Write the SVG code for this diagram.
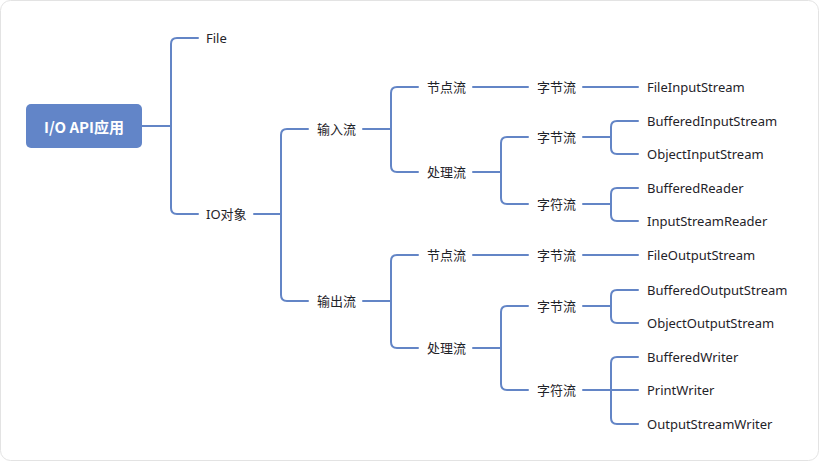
<svg xmlns="http://www.w3.org/2000/svg" width="819" height="461" viewBox="0 0 819 461">
<style>
.t{font-family:"Noto Sans","Noto Sans CJK SC",sans-serif;font-size:13px;fill:#1f2329;dominant-baseline:central}
.c{fill:none;stroke:#6385c6;stroke-width:2;stroke-linecap:round;stroke-linejoin:round}
.rt{font-family:"Noto Sans CJK SC","Noto Sans",sans-serif;font-size:15px;font-weight:bold;fill:#ffffff;dominant-baseline:central;text-anchor:middle}
</style>
<rect x="0.5" y="0.5" width="818" height="460" rx="10" fill="#ffffff" stroke="#e3e3e3"/>
<g id="connectors" class="c">
<path d="M142,126 H171"/>
<path d="M198,38 H177 Q171,38 171,44 V208 Q171,214 177,214 H198"/>
<path d="M254,214 H281"/>
<path d="M308,129 H287 Q281,129 281,135 V295 Q281,301 287,301 H308"/>
<path d="M363,129 H391"/>
<path d="M418,87 H397 Q391,87 391,93 V166 Q391,172 397,172 H418"/>
<path d="M473,87 H528"/>
<path d="M473,172 H501"/>
<path d="M528,137 H507 Q501,137 501,143 V198 Q501,204 507,204 H528"/>
<path d="M583,87 H638"/>
<path d="M583,137 H611"/>
<path d="M638,121 H617 Q611,121 611,127 V148 Q611,154 617,154 H638"/>
<path d="M583,204 H611"/>
<path d="M638,188 H617 Q611,188 611,194 V215 Q611,221 617,221 H638"/>
<path d="M363,301 H391"/>
<path d="M418,255 H397 Q391,255 391,261 V342 Q391,348 397,348 H418"/>
<path d="M473,255 H528"/>
<path d="M583,255 H638"/>
<path d="M473,348 H501"/>
<path d="M528,306 H507 Q501,306 501,312 V384 Q501,390 507,390 H528"/>
<path d="M583,306 H611"/>
<path d="M638,290 H617 Q611,290 611,296 V317 Q611,323 617,323 H638"/>
<path d="M583,390 H638"/>
<path d="M638,357 H617 Q611,357 611,363 V418 Q611,424 617,424 H638"/>
</g>
<g id="root"><rect x="26" y="104" width="116" height="44" rx="5" fill="#6285c8"/><text class="rt" x="84" y="126">I/O API应用</text></g>
<g id="file"><text class="t" x="206" y="38">File</text></g>
<g id="io"><text class="t" x="206" y="214">IO对象</text></g>
<g id="input"><text class="t" x="317" y="129">输入流</text></g>
<g id="output"><text class="t" x="317" y="301">输出流</text></g>
<g id="in-node"><text class="t" x="427" y="87">节点流</text></g>
<g id="in-proc"><text class="t" x="427" y="172">处理流</text></g>
<g id="in-node-byte"><text class="t" x="537" y="87">字节流</text></g>
<g id="in-proc-byte"><text class="t" x="537" y="137">字节流</text></g>
<g id="in-proc-char"><text class="t" x="537" y="204">字符流</text></g>
<g id="fis"><text class="t" x="647" y="87">FileInputStream</text></g>
<g id="bis"><text class="t" x="647" y="121">BufferedInputStream</text></g>
<g id="ois"><text class="t" x="647" y="154">ObjectInputStream</text></g>
<g id="br"><text class="t" x="647" y="188">BufferedReader</text></g>
<g id="isr"><text class="t" x="647" y="221">InputStreamReader</text></g>
<g id="out-node"><text class="t" x="427" y="255">节点流</text></g>
<g id="out-proc"><text class="t" x="427" y="348">处理流</text></g>
<g id="out-node-byte"><text class="t" x="537" y="255">字节流</text></g>
<g id="out-proc-byte"><text class="t" x="537" y="306">字节流</text></g>
<g id="out-proc-char"><text class="t" x="537" y="390">字符流</text></g>
<g id="fos"><text class="t" x="647" y="255">FileOutputStream</text></g>
<g id="bos"><text class="t" x="647" y="290">BufferedOutputStream</text></g>
<g id="oos"><text class="t" x="647" y="323">ObjectOutputStream</text></g>
<g id="bw"><text class="t" x="647" y="357">BufferedWriter</text></g>
<g id="pw"><text class="t" x="647" y="390">PrintWriter</text></g>
<g id="osw"><text class="t" x="647" y="424">OutputStreamWriter</text></g>
</svg>
